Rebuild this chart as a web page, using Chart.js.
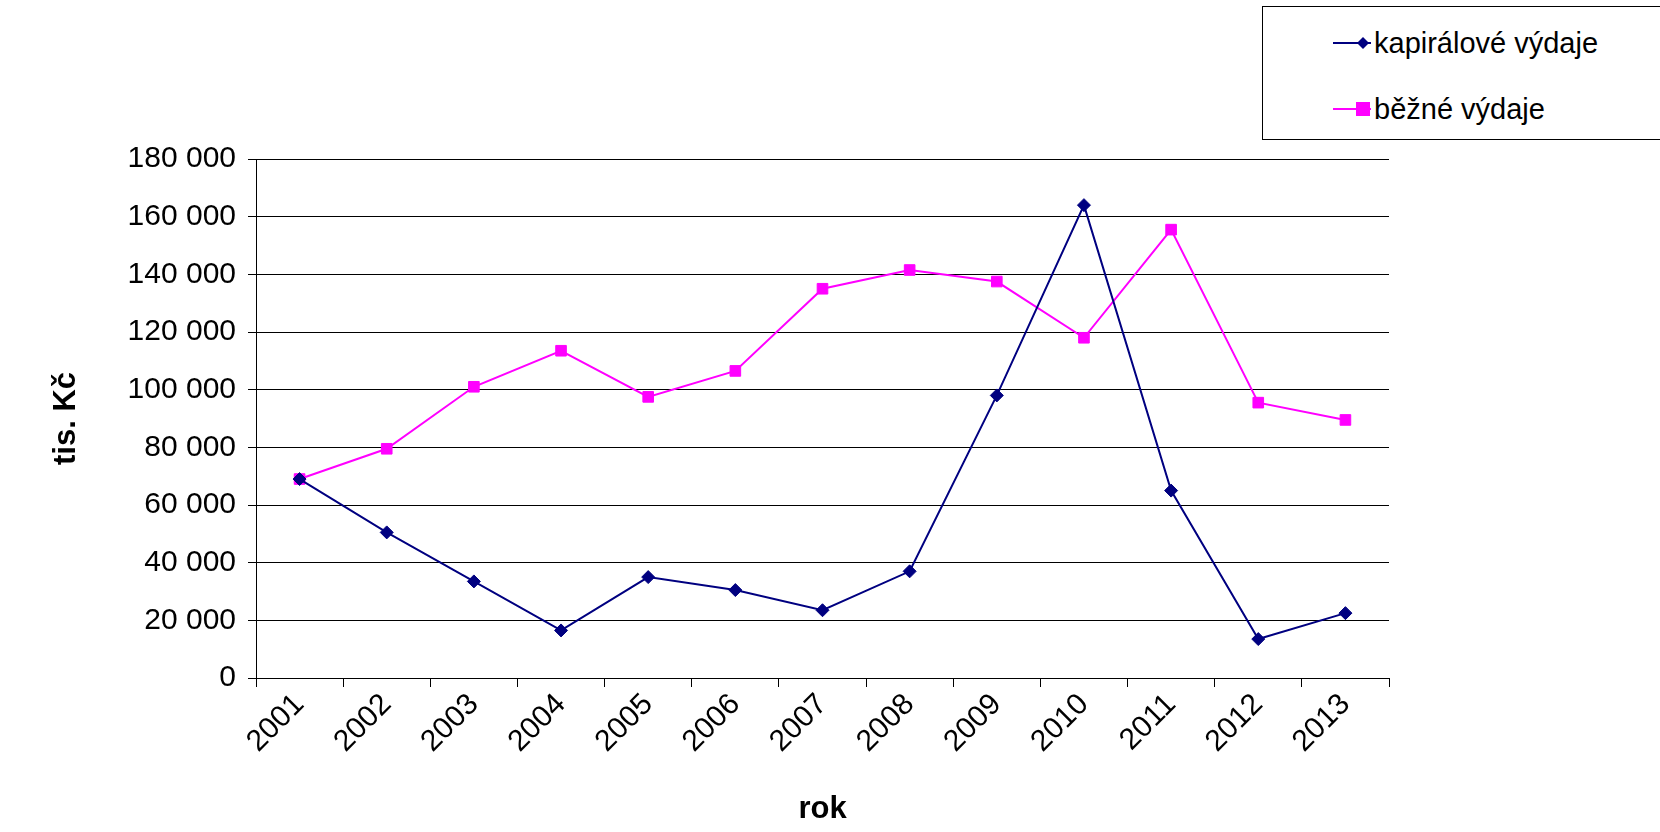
<!DOCTYPE html>
<html>
<head>
<meta charset="utf-8">
<script src="https://cdn.jsdelivr.net/npm/chart.js@4"></script>
<style>
  html, body { margin: 0; padding: 0; background: #fff; }
  #wrap { position: relative; width: 1660px; height: 832px; }
  #legend {
    position: absolute; left: 1262px; top: 6px; width: 400px; height: 134px;
    border: 1px solid #000; background: #fff; box-sizing: border-box;
    font-family: 'Liberation Sans', Arial, sans-serif; font-size: 29px;
  }
  .item { position: absolute; left: 70px; display: flex; align-items: center; height: 32px; }
  .item canvas { margin-right: 3px; }
</style>
</head>
<body>
<div id="wrap">
  <canvas id="chart" width="1660" height="832"></canvas>
  <div id="legend"></div>
</div>
<script>
// roky a hodnoty (tis. Kč)
const years = ['2001','2002','2003','2004','2005','2006','2007','2008','2009','2010','2011','2012','2013'];
const kapitalove = [69000, 50500, 33500, 16500, 35000, 30500, 23500, 37000, 98000, 164000, 65000, 13500, 22500];
const bezne = [69000, 79500, 101000, 113500, 97500, 106500, 135000, 141500, 137500, 118000, 155500, 95500, 89500];
const seriesNames = ['kapirálové výdaje', 'běžné výdaje'];

const font = "'Liberation Sans', Arial, sans-serif";
Chart.defaults.font.family = font;
Chart.defaults.color = '#000';

const fmt = v => v.toString().replace(/\B(?=(\d{3})+(?!\d))/g, ' ');

const chart = new Chart(document.getElementById('chart'), {
  type: 'line',
  data: {
    labels: years,
    datasets: [
      {
        label: seriesNames[0], data: kapitalove,
        borderColor: '#000080', backgroundColor: '#000080', borderWidth: 2,
        pointStyle: 'rectRot', pointRadius: 6.5, pointBorderWidth: 1, tension: 0
      },
      {
        label: seriesNames[1], data: bezne,
        borderColor: '#FF00FF', backgroundColor: '#FF00FF', borderWidth: 2,
        pointStyle: 'rect', pointRadius: 7.5, pointBorderWidth: 1, tension: 0
      }
    ]
  },
  options: {
    responsive: false,
    animation: false,
    layout: { padding: { left: 0, top: 159, right: 271, bottom: 0 } },
    plugins: { legend: { display: false }, tooltip: { enabled: false } },
    scales: {
      x: {
        offset: true,
        grid: { drawOnChartArea: false, color: '#000', tickLength: 9, offset: true },
        border: { color: '#000', width: 1 },
        ticks: { font: { size: 30 }, maxRotation: 45, minRotation: 45, padding: 0 },
        title: { display: true, text: 'rok', font: { size: 31, weight: 'bold' }, padding: { top: 8 } },
        afterFit: s => { s.height = 154; }
      },
      y: {
        min: 0, max: 180000,
        ticks: { stepSize: 20000, font: { size: 30 }, callback: v => fmt(v), padding: 12 },
        grid: { color: '#000', tickLength: 8 },
        border: { color: '#000', width: 1 },
        title: { display: true, text: 'tis. Kč', font: { size: 31, weight: 'bold' }, padding: { top: 48, bottom: 0 } },
        afterFit: s => { s.width = 256; }
      }
    }
  }
});

// legenda
const legend = document.getElementById('legend');
chart.data.datasets.forEach((ds, i) => {
  const item = document.createElement('div');
  item.className = 'item';
  item.style.top = (i === 0 ? 20 : 86) + 'px';
  const c = document.createElement('canvas');
  c.width = 38; c.height = 20;
  const g = c.getContext('2d');
  g.strokeStyle = ds.borderColor; g.lineWidth = 2;
  g.beginPath(); g.moveTo(0, 10); g.lineTo(38, 10); g.stroke();
  g.fillStyle = ds.backgroundColor;
  if (ds.pointStyle === 'rect') { g.fillRect(23, 3, 14, 14); }
  else { g.beginPath(); g.moveTo(30, 4); g.lineTo(36, 10); g.lineTo(30, 16); g.lineTo(24, 10); g.closePath(); g.fill(); }
  item.appendChild(c);
  const t = document.createElement('span');
  t.textContent = ds.label;
  item.appendChild(t);
  legend.appendChild(item);
});
</script>
</body>
</html>
